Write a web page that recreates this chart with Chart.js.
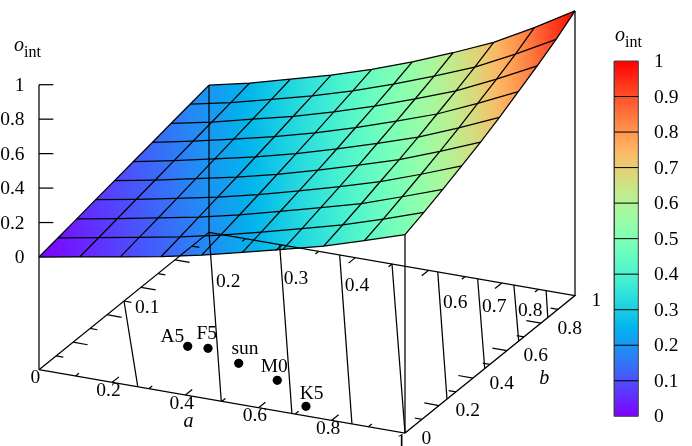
<!DOCTYPE html>
<html><head><meta charset="utf-8">
<style>html,body{margin:0;padding:0;background:#fff}canvas{display:block}</style>
<script src="https://cdn.jsdelivr.net/npm/chart.js@4/dist/chart.umd.min.js"></script>
</head><body><canvas id="c" width="692" height="446"></canvas>
<script>
// ---- data ----
// surface heights o_int: one row per a = 0..1 (9 steps), columns b = 0..1 (9 steps)
const surfaceA0 = [0,.022,.044,.067,.089,.111,.133,.156,.178,.2];
const surfaceA1 = [.041,.064,.087,.110,.133,.157,.181,.204,.228,.253];
const surfaceA2 = [.082,.107,.131,.156,.182,.208,.234,.261,.288,.316];
const surfaceA3 = [.124,.150,.177,.204,.231,.260,.289,.319,.349,.381];
const surfaceA4 = [.174,.202,.230,.259,.289,.320,.352,.385,.419,.455];
const surfaceA5 = [.231,.260,.291,.322,.354,.388,.424,.460,.498,.539];
const surfaceA6 = [.289,.321,.354,.388,.424,.462,.502,.543,.586,.633];
const surfaceA7 = [.349,.383,.419,.458,.496,.539,.584,.630,.679,.734];
const surfaceA8 = [.421,.458,.499,.541,.585,.633,.686,.739,.795,.860];
const surfaceA9 = [.497,.538,.583,.631,.680,.735,.795,.856,.922,.998];
const surfaceRows = [surfaceA0,surfaceA1,surfaceA2,surfaceA3,surfaceA4,surfaceA5,surfaceA6,surfaceA7,surfaceA8,surfaceA9];
// base-plane contour lines, as [a,b] end points
const contour01 = [[0,.5],[.27,0]];
const contour02 = [[0,1],[.498,0]];
const contour03 = [[.193,1],[.691,0]];
const contour04 = [[.357,1],[.855,0]];
const contour05 = [[.5,1],[1,0]];
const contour06 = [[.625,1],[1,.247]];
const contour07 = [[.734,1],[1,.469]];
const contour08 = [[.833,1],[1,.669]];
const contour09 = [[.921,1],[1,.84]];
const contours = [contour01,contour02,contour03,contour04,contour05,contour06,contour07,contour08,contour09];
// stars
const starNames = ['A5','F5','sun','M0','K5'];
const starA = [.2695,.3208,.4316,.5658,.7028];
const starB = [.2945,.3035,.2454,.1835,.0574];
// ticks
const aTickValues = [.1,.2,.3,.4,.5,.6,.7,.8,.9];
const aTickMajor = [.2,.4,.6,.8];
const zTicks = [.2,.4,.6,.8,1];
const barTicks = [0,.1,.2,.3,.4,.5,.6,.7,.8,.9,1];
const axisLabels = ['0','0.2','0.4','0.6','0.8','1'];
const axisLabelValues = [0,.2,.4,.6,.8,1];
const zLabels = ['0','0.2','0.4','0.6','0.8','1'];
const contourLabels = ['0.1','0.2','0.3','0.4','0.6','0.7','0.8'];

// ---- projection of the 3D box onto the flat plotting plane ----
const view = {x0:39,y0:369.7,ax:366,ay:63.3,bx:170,by:-137.4,lift:112.7,zh:172.3};
const PX = (a,b)=>view.x0+view.ax*a+view.bx*b;
const PY = (a,b,o)=>view.y0+view.ay*a+view.by*b-(o===undefined?0:view.lift+view.zh*o);
const P3 = (a,b,o)=>({x:PX(a,b),y:PY(a,b,o)});
const bar = {l:614.3,r:638.3,t:61,b:416.3};
const BY = v=>bar.b+(bar.t-bar.b)*v;

function palette(v){
  const t=Math.max(0,Math.min(1,v));
  const r=Math.min(1,Math.abs(2*t-.5)),g=Math.sin(Math.PI*t),b=Math.max(0,Math.cos(Math.PI*t/2));
  return `rgb(${Math.round(r*255)},${Math.round(g*255)},${Math.round(b*255)})`;
}
const line=(data,o={})=>Object.assign({data,showLine:true,pointRadius:0,borderColor:'#000',borderWidth:1.25,fill:false,tension:0},o);

function cellFill(j,k){
  return function(ctx){
    const chart=ctx.chart,sx=chart.scales.x,sy=chart.scales.y;
    if(!sx||!sy||!Number.isFinite(sx.getPixelForValue(100))||!Number.isFinite(sy.getPixelForValue(100))) return '#888';
    const n=9,pt=(jj,kk)=>({x:sx.getPixelForValue(PX(jj/n,kk/n)),y:sy.getPixelForValue(PY(jj/n,kk/n,surfaceRows[jj][kk])),v:surfaceRows[jj][kk]});
    const p=[pt(j,k),pt(j+1,k),pt(j+1,k+1),pt(j,k+1)];
    const ux=(p[1].x-p[0].x+p[2].x-p[3].x)/2,uy=(p[1].y-p[0].y+p[2].y-p[3].y)/2,uv=(p[1].v-p[0].v+p[2].v-p[3].v)/2;
    const wx=(p[3].x-p[0].x+p[2].x-p[1].x)/2,wy=(p[3].y-p[0].y+p[2].y-p[1].y)/2,wv=(p[3].v-p[0].v+p[2].v-p[1].v)/2;
    const det=ux*wy-uy*wx;
    if(!det) return '#888';
    const gx=(uv*wy-uy*wv)/det,gy=(ux*wv-uv*wx)/det,g2=gx*gx+gy*gy;
    const cx=p.reduce((s,q)=>s+q.x,0)/4,cy=p.reduce((s,q)=>s+q.y,0)/4,cv=p.reduce((s,q)=>s+q.v,0)/4;
    const vs=p.map(q=>cv+(q.x-cx)*gx+(q.y-cy)*gy);
    const lo=Math.min(...vs)-.01,hi=Math.max(...vs)+.01;
    const gr=chart.ctx.createLinearGradient(cx+gx/g2*(lo-cv),cy+gy/g2*(lo-cv),cx+gx/g2*(hi-cv),cy+gy/g2*(hi-cv));
    for(let i=0;i<=6;i++) gr.addColorStop(i/6,palette(lo+(hi-lo)*i/6));
    return gr;
  };
}

const layers=[];
// surface cells
for(let j=0;j<9;j++)for(let k=0;k<9;k++){
  const n=9,q=(jj,kk)=>P3(jj/n,kk/n,surfaceRows[jj][kk]);
  layers.push(line([q(j,k),q(j+1,k),q(j+1,k+1),q(j,k+1),q(j,k)],{fill:'shape',borderWidth:0,borderColor:'transparent',backgroundColor:cellFill(j,k)}));
}
// surface mesh
surfaceRows.forEach((row,j)=>layers.push(line(row.map((o,k)=>P3(j/9,k/9,o)))));
for(let k=0;k<10;k++) layers.push(line(surfaceRows.map((row,j)=>P3(j/9,k/9,row[k]))));
// contours on the base
contours.forEach(c=>layers.push(line(c.map(([a,b])=>P3(a,b)))));
// box: base edges and verticals
layers.push(line([P3(0,0),P3(1,0),P3(1,1),P3(0,1),P3(0,0)]));
layers.push(line([P3(0,0),P3(0,0,1)]));
layers.push(line([P3(1,0),P3(1,0,surfaceA9[0])]));
layers.push(line([P3(1,1),P3(1,1,surfaceA9[9])]));
layers.push(line([P3(0,1),P3(0,1,surfaceA0[9])]));
// base ticks
aTickValues.forEach(t=>{
  const len=aTickMajor.some(m=>Math.abs(m-t)<1e-6)?.04:.02;
  layers.push(line([P3(t,0),P3(t,len)]));
  layers.push(line([P3(t,1),P3(t,1-len)]));
  layers.push(line([P3(0,t),P3(len,t)]));
  layers.push(line([P3(1,t),P3(1-len,t)]));
});
// z ticks
zTicks.forEach(z=>{const p=P3(0,0,z);layers.push(line([p,{x:p.x+14.3,y:p.y}]));});
// stars
layers.push({data:starA.map((a,i)=>P3(a,starB[i])),showLine:false,pointRadius:4.6,pointBorderWidth:0,pointBackgroundColor:'#000',backgroundColor:'#000'});
// colour bar
layers.push(line([{x:bar.l,y:BY(0)},{x:bar.r,y:BY(0)},{x:bar.r,y:BY(1)},{x:bar.l,y:BY(1)},{x:bar.l,y:BY(0)}],{fill:'shape',borderColor:'#444',borderWidth:1,backgroundColor:(ctx)=>{
  const c=ctx.chart,sy=c.scales.y; if(!sy||!Number.isFinite(sy.getPixelForValue(100))) return '#888';
  const g=c.ctx.createLinearGradient(0,sy.getPixelForValue(BY(0)),0,sy.getPixelForValue(BY(1)));
  for(let i=0;i<=40;i++) g.addColorStop(i/40,palette(i/40));
  return g;
}}));
barTicks.slice(1,-1).forEach(v=>layers.push(line([{x:bar.l,y:BY(v)},{x:bar.r,y:BY(v)}],{borderWidth:1})));

// ---- text ----
const SERIF='"Liberation Serif","Times New Roman",serif';
const LABEL='19.5px '+SERIF, ITALIC='italic 20px '+SERIF;
const contourLabelPos=[[147.3,307],[228.3,281.3],[296,278],[357,284.7],[455.3,302],[494.3,305.7],[530.3,310.3]];
const starLabelPos=[[172.3,336.3],[206.7,333],[245,348],[274.3,366.3],[311.7,393]];
const textPlugin={id:'texts',afterDatasetsDraw(chart){
  const c=chart.ctx,sx=chart.scales.x,sy=chart.scales.y;
  const T=(s,x,y,align='center',font=LABEL)=>{c.font=font;c.textAlign=align;c.textBaseline='middle';c.fillStyle='#000';c.fillText(s,sx.getPixelForValue(x),sy.getPixelForValue(y+1));};
  c.save();
  zLabels.forEach((s,i)=>{T(s,24.5,PY(0,0,axisLabelValues[i]),'right');});
  axisLabels.forEach((s,i)=>{const v=axisLabelValues[i];T(s,PX(v,0)-3.7,PY(v,0)+7.5);});
  axisLabels.forEach((s,i)=>{const v=axisLabelValues[i];T(s,PX(1,v)+16.5,PY(1,v)+4.6,'left');});
  contourLabels.forEach((s,i)=>T(s,contourLabelPos[i][0],contourLabelPos[i][1]));
  starNames.forEach((s,i)=>T(s,starLabelPos[i][0],starLabelPos[i][1]));
  barTicks.forEach(v=>T(String(v),654,BY(v),'left'));
  T('a',188.5,421,'center',ITALIC);
  T('b',544.3,378,'center',ITALIC);
  const title=(x,y)=>{c.font=ITALIC;c.textAlign='left';c.textBaseline='alphabetic';c.fillStyle='#000';c.fillText('o',sx.getPixelForValue(x),sy.getPixelForValue(y));
    c.font='16px '+SERIF;c.fillText('int',sx.getPixelForValue(x+10),sy.getPixelForValue(y+6));};
  title(14,51);title(615,41);
  c.restore();
}};

new Chart(document.getElementById('c'),{
  type:'scatter',
  data:{datasets:layers.slice().reverse()},
  options:{
    responsive:false,animation:false,
    layout:{padding:0,autoPadding:false},
    parsing:false,normalized:false,
    plugins:{legend:{display:false},tooltip:{enabled:false},title:{display:false}},
    scales:{
      x:{type:'linear',display:false,min:0,max:692},
      y:{type:'linear',display:false,min:0,max:446,reverse:true}
    }
  },
  plugins:[textPlugin]
});
</script></body></html>
